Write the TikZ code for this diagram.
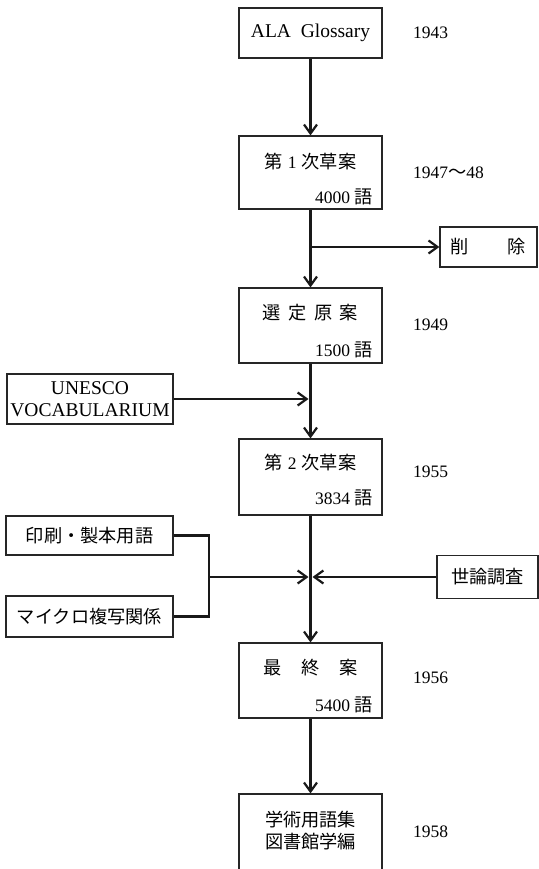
\documentclass[tikz,border=0pt]{standalone}
\usepackage{fontspec}
\setmainfont{Liberation Serif}
\newfontfamily\jp[Scale=1.04]{Noto Sans CJK JP}
\usetikzlibrary{arrows.meta}
\begin{document}
\begin{tikzpicture}[
  x=1pt, y=-1pt,
  font=\fontsize{17.5}{21}\selectfont,
  box/.style={draw=black!85, line width=1.2pt, inner sep=0pt, align=center,
              minimum width=143pt, minimum height=#1},
  box/.default=75pt,
  big/.style={font=\fontsize{19.5}{21.5}\selectfont},
  jtxt/.style={font=\fontsize{17.5}{22}\selectfont\jp, inner sep=0pt, align=center},
  cnt/.style={anchor=east, inner sep=0pt},
  yr/.style={anchor=west, inner sep=0pt},
  ln/.style={line width=2.2pt, black!90},
  ar/.style={ln, -{Straight Barb[length=9pt, width=13pt]}},
]
\useasboundingbox (0,0) rectangle (538,869);

% ---- main chain of drafts ----
\node[box=50pt, big] (ala) at (310.5,33) {ALA\ \ Glossary};
\node[yr] (y43) at (413,33) {1943};

\node[box=73pt] (d1) at (310.5,172.5) {};
\node[jtxt] (d1t) at (310.5,162) {第\hspace{5pt}{\rmfamily 1}\hspace{5pt}次草案};
\node[cnt] (d1n) at (373,197) {4000 {\jp 語}};
\node[yr] (y47) at (413,173) {1947{\jp 〜}48};

\node[box] (sel) at (310.5,325.5) {};
\node[jtxt] (selt) at (310.5,313) {選\hspace{7.5pt}定\hspace{7.5pt}原\hspace{7.5pt}案};
\node[cnt] (seln) at (373,350) {1500 {\jp 語}};
\node[yr] (y49) at (413,325) {1949};

\node[box=76pt] (d2) at (310.5,477) {};
\node[jtxt] (d2t) at (310.5,463) {第\hspace{5pt}{\rmfamily 2}\hspace{5pt}次草案};
\node[cnt] (d2n) at (373,498) {3834 {\jp 語}};
\node[yr] (y55) at (413,472) {1955};

\node[box] (fin) at (310.5,680.5) {};
\node[jtxt] (fint) at (310.5,668) {最\hspace{20pt}終\hspace{20pt}案};
\node[cnt] (finn) at (373,705) {5400 {\jp 語}};
\node[yr] (y56) at (413,678) {1956};

\node[box=120pt] (book) at (310.5,854) {};
\node[jtxt] (bookt) at (310.5,831) {学術用語集\\図書館学編};
\node[yr] (y58) at (413,832) {1958};

% ---- side boxes ----
\node[box=40pt, minimum width=97pt, jtxt] (del) at (488.5,247) {削\hspace{39pt}除};
\node[box=50pt, minimum width=166pt, big] (unesco) at (90,399) {UNESCO\\VOCABULARIUM};
\node[box=39pt, minimum width=167pt, jtxt] (print) at (89.5,535.5) {印刷・製本用語};
\node[box=41pt, minimum width=167pt, jtxt] (micro) at (89.5,616.5) {マイクロ複写関係};
\node[box=43pt, minimum width=101pt, jtxt] (survey) at (487.5,577) {世論調査};
\coordinate (brk) at (209,577);

% ---- connectors ----
\draw[ar] (ala.south) -- (d1.north);
\draw[ar] (d1.south) -- (sel.north);
\draw[ar] (del.west -| d1.south) -- (del.west);
\draw[ar] (sel.south) -- (d2.north);
\draw[ar, shorten >=2pt] (unesco.east) -- (unesco.east -| sel.south);
\draw[ar] (d2.south) -- (fin.north);
\draw[ln] (print.east) -| (brk) |- (micro.east);
\draw[ar, shorten >=2pt] (brk) -- (brk -| d2.south);
\draw[ar, shorten >=2pt] (survey.west) -- (survey.west -| d2.south);
\draw[ar] (fin.south) -- (book.north);
\end{tikzpicture}
\end{document}
